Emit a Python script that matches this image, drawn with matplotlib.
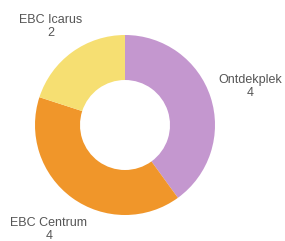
import matplotlib.pyplot as plt

# data
labels = ['Ontdekplek', 'EBC Centrum', 'EBC Icarus']
values = [4, 4, 2]
colors = ['#c497cf', '#f0962a', '#f6df72']

plt.rcParams['font.family'] = ['Liberation Sans', 'DejaVu Sans']

fig = plt.figure(figsize=(2.85, 2.41), dpi=100)
ax = fig.add_axes([0, 0, 1, 1])

texts = ['%s\n%d' % (l, v) for l, v in zip(labels, values)]
wedges, txts = ax.pie(values, colors=colors, labels=texts, startangle=90,
                      counterclock=False, center=(125, 116), radius=90,
                      labeldistance=1.42,
                      wedgeprops=dict(width=45, edgecolor='none'),
                      textprops=dict(fontsize=9, color='#555555', linespacing=1.1))
# small nudges so the labels sit where the original had them
nudges = [(4, -1), (-1, -1.5), (1, -5)]
for t, (dx, dy) in zip(txts, nudges):
    x, y = t.get_position()
    t.set_position((x + dx, y + dy))
    t.set_ha('center')
    t.set_va('center')

ax.set_xlim(0, 285)
ax.set_ylim(0, 241)
ax.set_aspect('equal')
ax.axis('off')

fig.savefig('out.png', dpi=100)
